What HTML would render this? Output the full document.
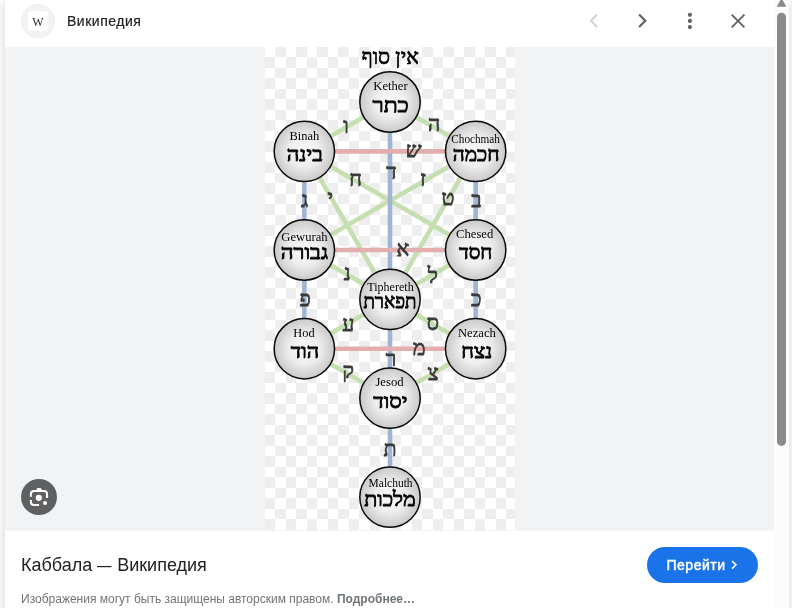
<!DOCTYPE html>
<html lang="ru">
<head>
<meta charset="utf-8">
<title>Каббала — Википедия</title>
<style>
*{box-sizing:border-box;margin:0;padding:0}
html,body{width:792px;height:608px;overflow:hidden;background:#fff}
body{position:relative;font-family:"Liberation Sans",sans-serif;color:#202124}
.edge{position:absolute;left:0;top:0;width:5px;height:608px;background:linear-gradient(180deg,rgba(255,255,255,.55),rgba(255,255,255,0) 9px),linear-gradient(90deg,#f5f5f5 0 1px,#f3f3f3 0 2px,#f0f0f0 0 3px,#ededed 0 4px,#e9eaea 0)}
.corner{position:absolute;left:5px;top:0;width:5px;height:5px;background:#f4f5f5}
.panel{position:absolute;left:5px;top:0;width:769px;height:608px;background:#fff;border-top-left-radius:4px}
.header{position:absolute;left:0;top:0;width:769px;height:47px}
.fav{position:absolute;left:16px;top:4px;width:34px;height:34px;border-radius:50%;background:#f1f3f4;border:1px solid #eceef0}
.fav i{position:absolute;left:6px;top:6px;width:20px;height:20px;border-radius:3px;background:#fff}
.fav b{position:absolute;left:6px;top:6.5px;width:20px;height:20px;font:normal 12px/20px "Liberation Serif",serif;text-align:center;color:#2a2a2a;will-change:transform}
.site{position:absolute;left:62px;top:13px;font-size:14px;line-height:16px;color:#202124;white-space:nowrap;letter-spacing:.52px;will-change:transform;-webkit-text-stroke:.2px #202124}
.hic{position:absolute;left:0;top:0}
.lens svg,.btn svg{position:absolute;left:0;top:0}
.dash{display:inline-block;transform:scaleX(.8);transform-origin:0 50%;margin-right:-3.1px}
.stage{position:absolute;left:0;top:47px;width:769px;height:484px;background:#f1f3f4}
.img{position:absolute;left:260px;top:0;width:250px;height:483px;background:#fff}
.img svg{display:block}
.sub{position:absolute;left:0;top:483px;width:769px;height:1px;background:#f7f8f9}
.sub i{position:absolute;left:260px;top:0;width:250px;height:1px;background:#f3f3f3}
.lens{position:absolute;left:16px;top:432px;width:36px;height:36px;border-radius:50%;background:#5f6062}
.foot{position:absolute;left:0;top:531px;width:769px;height:77px}
.title{position:absolute;left:16px;top:23px;font-size:18px;line-height:22px;color:#202124;white-space:nowrap}
.cap{position:absolute;left:16px;top:61px;font-size:12px;line-height:14px;color:#70757a;white-space:nowrap}
.cap b{font-weight:bold}
.btn{position:absolute;left:642px;top:16px;width:111px;height:36px;border-radius:18px;background:#1a73e8;color:#fff;font-size:14px;line-height:36px;white-space:nowrap;letter-spacing:.5px;-webkit-text-stroke:.45px #fff}
.btn span{position:absolute;left:19.5px;top:0}
.sb{position:absolute;left:774px;top:0;width:15px;height:608px;background:#fcfcfc}
.sb svg{position:absolute;left:0;top:0}
.rt{position:absolute;left:789px;top:0;width:3px;height:608px;background:linear-gradient(180deg,rgba(255,255,255,.6),rgba(255,255,255,0) 9px),linear-gradient(90deg,#eaecec 0 1px,#eeeeee 0 2px,#f0f0f0 0)}
</style>
</head>
<body>
<div class="edge"></div>
<div class="corner"></div>
<div class="panel">
  <div class="header">
    <div class="fav"><i></i><b>W</b></div>
    <div class="site">Википедия</div>
    <svg class="hic" width="769" height="47" viewBox="5 0 769 47" fill="none">
      <polyline points="597.1,14.6 590.9,20.85 597.1,27.1" stroke="#d2d4d7" stroke-width="2.15"/>
      <polyline points="639.1,14.6 645.3,20.85 639.1,27.1" stroke="#5f6368" stroke-width="2.15"/>
      <g fill="#5f6368"><circle cx="689.9" cy="14.8" r="2.1"/><circle cx="689.9" cy="20.95" r="2.1"/><circle cx="689.9" cy="27.1" r="2.1"/></g>
      <path d="M731.7 14.6L744.4 27.4M744.4 14.6L731.7 27.4" stroke="#5f6368" stroke-width="1.9"/>
    </svg>
  </div>
  <div class="stage">
    <div class="img">
<!--TREE-->
<svg class="tree" width="250" height="483" viewBox="0 0 250 483">
<defs><radialGradient id="g" cx="50%" cy="50%" r="50%"><stop offset="0" stop-color="#f9f9f9"/><stop offset="0.5" stop-color="#eeeeee"/><stop offset="1" stop-color="#c9c9c9"/></radialGradient><pattern id="ck" width="21" height="21" patternUnits="userSpaceOnUse"><rect width="21" height="21" fill="#fff"/><rect x="10" width="11" height="10" fill="#eee"/><rect y="10" width="10" height="11" fill="#eee"/></pattern></defs>
<rect width="250" height="483" fill="url(#ck)"/>
<g stroke-width="4.6" fill="none">
<line x1="125.00" y1="55.00" x2="39.35" y2="104.34" stroke="#c5dfb0"/>
<line x1="125.00" y1="55.00" x2="210.65" y2="104.34" stroke="#c5dfb0"/>
<line x1="39.35" y1="104.34" x2="125.00" y2="252.36" stroke="#c5dfb0"/>
<line x1="210.65" y1="104.34" x2="125.00" y2="252.36" stroke="#c5dfb0"/>
<line x1="39.35" y1="104.34" x2="210.65" y2="203.02" stroke="#c5dfb0"/>
<line x1="210.65" y1="104.34" x2="39.35" y2="203.02" stroke="#c5dfb0"/>
<line x1="39.35" y1="203.02" x2="125.00" y2="252.36" stroke="#c5dfb0"/>
<line x1="210.65" y1="203.02" x2="125.00" y2="252.36" stroke="#c5dfb0"/>
<line x1="125.00" y1="252.36" x2="39.35" y2="301.70" stroke="#c5dfb0"/>
<line x1="125.00" y1="252.36" x2="210.65" y2="301.70" stroke="#c5dfb0"/>
<line x1="39.35" y1="301.70" x2="125.00" y2="351.14" stroke="#c5dfb0"/>
<line x1="210.65" y1="301.70" x2="125.00" y2="351.14" stroke="#c5dfb0"/>
<line x1="125.00" y1="55.00" x2="125.00" y2="252.36" stroke="#9fb5d3"/>
<line x1="39.35" y1="104.34" x2="39.35" y2="203.02" stroke="#9fb5d3"/>
<line x1="210.65" y1="104.34" x2="210.65" y2="203.02" stroke="#9fb5d3"/>
<line x1="39.35" y1="203.02" x2="39.35" y2="301.70" stroke="#9fb5d3"/>
<line x1="210.65" y1="203.02" x2="210.65" y2="301.70" stroke="#9fb5d3"/>
<line x1="125.00" y1="252.36" x2="125.00" y2="351.14" stroke="#9fb5d3"/>
<line x1="125.00" y1="351.14" x2="125.00" y2="450.15" stroke="#9fb5d3"/>
<line x1="39.35" y1="104.34" x2="210.65" y2="104.34" stroke="#e2aeae"/>
<line x1="39.35" y1="203.02" x2="210.65" y2="203.02" stroke="#e2aeae"/>
<line x1="39.35" y1="301.70" x2="210.65" y2="301.70" stroke="#e2aeae"/>
</g>
<g font-family="'Liberation Serif',serif" fill="#3a3a3a" stroke="#3a3a3a" stroke-width="0.8" stroke-linejoin="round" text-anchor="middle" style="will-change:transform">
<text x="81.01" y="85.7" font-size="21.4">ו</text>
<text x="169.17" y="83.7" font-size="21.4">ה</text>
<text x="148.06" y="109.5" font-size="21.4" font-style="italic">ש</text>
<text x="126.44" y="131.6" font-size="21.4">ד</text>
<text x="90.62" y="139.2" font-size="21.4">ח</text>
<text x="158.07" y="139.4" font-size="21.4">ז</text>
<text x="65.34" y="157.9" font-size="21.4">י</text>
<text x="182.85" y="158.3" font-size="21.4">ט</text>
<text x="39.62" y="160.1" font-size="21.4">ג</text>
<text x="211.44" y="160.1" font-size="21.4">ב</text>
<text x="137.9" y="208.7" font-size="21.4">א</text>
<text x="82.29" y="233.0" font-size="21.4">נ</text>
<text x="167.82" y="235.7" font-size="21.4">ל</text>
<text x="40.16" y="258.7" font-size="21.4">פ</text>
<text x="211.11" y="259.0" font-size="21.4">כ</text>
<text x="83.38" y="283.5" font-size="21.4">ע</text>
<text x="167.89" y="283.0" font-size="21.4">ס</text>
<text x="154.04" y="307.6" font-size="21.4">מ</text>
<text x="125.96" y="319.3" font-size="21.4">ר</text>
<text x="83.15" y="331.2" font-size="21.4">ק</text>
<text x="168.15" y="332.6" font-size="21.4">צ</text>
<text x="125.14" y="408.5" font-size="21.4">ת</text>
</g>
<g stroke="#0a0a0a" stroke-width="1.5" fill="url(#g)">
<circle cx="125.00" cy="55.00" r="30.2"/>
<circle cx="39.35" cy="104.34" r="30.2"/>
<circle cx="210.65" cy="104.34" r="30.2"/>
<circle cx="39.35" cy="203.02" r="30.2"/>
<circle cx="210.65" cy="203.02" r="30.2"/>
<circle cx="125.00" cy="252.36" r="30.2"/>
<circle cx="39.35" cy="301.70" r="30.2"/>
<circle cx="210.65" cy="301.70" r="30.2"/>
<circle cx="125.00" cy="351.14" r="30.2"/>
<circle cx="125.00" cy="450.15" r="30.2"/>
</g>
<g style="will-change:transform" text-anchor="middle" fill="#000" stroke="#000" font-family="'Liberation Serif',serif">
<text x="125.50" y="43.00" font-size="12.5" stroke-width="0" textLength="34.4" lengthAdjust="spacingAndGlyphs">Kether</text>
<text x="125.60" y="64.55" font-size="20.6" stroke-width="0.85" stroke-linejoin="round" textLength="36.3" lengthAdjust="spacingAndGlyphs">כתר</text>
<text x="39.35" y="92.74" font-size="12.5" stroke-width="0" textLength="29.8" lengthAdjust="spacingAndGlyphs">Binah</text>
<text x="39.75" y="113.69" font-size="20.6" stroke-width="0.85" stroke-linejoin="round" textLength="36.1" lengthAdjust="spacingAndGlyphs">בינה</text>
<text x="210.65" y="95.64" font-size="12.5" stroke-width="0" textLength="48.6" lengthAdjust="spacingAndGlyphs">Chochmah</text>
<text x="211.15" y="113.69" font-size="20.6" stroke-width="0.85" stroke-linejoin="round" textLength="46.8" lengthAdjust="spacingAndGlyphs">חכמה</text>
<text x="39.45" y="194.42" font-size="12.5" stroke-width="0" textLength="46.2" lengthAdjust="spacingAndGlyphs">Gewurah</text>
<text x="39.45" y="212.37" font-size="20.6" stroke-width="0.85" stroke-linejoin="round" textLength="47.5" lengthAdjust="spacingAndGlyphs">גבורה</text>
<text x="209.65" y="191.42" font-size="12.5" stroke-width="0" textLength="37.2" lengthAdjust="spacingAndGlyphs">Chesed</text>
<text x="210.65" y="212.37" font-size="20.6" stroke-width="0.85" stroke-linejoin="round" textLength="33.4" lengthAdjust="spacingAndGlyphs">חסד</text>
<text x="125.50" y="243.86" font-size="12.5" stroke-width="0" textLength="46.5" lengthAdjust="spacingAndGlyphs">Tiphereth</text>
<text x="125.00" y="261.41" font-size="20.6" stroke-width="0.85" stroke-linejoin="round" textLength="53.1" lengthAdjust="spacingAndGlyphs">תפארת</text>
<text x="38.95" y="290.20" font-size="12.5" stroke-width="0" textLength="21.3" lengthAdjust="spacingAndGlyphs">Hod</text>
<text x="39.95" y="311.25" font-size="20.6" stroke-width="0.85" stroke-linejoin="round" textLength="28.2" lengthAdjust="spacingAndGlyphs">הוד</text>
<text x="211.95" y="290.40" font-size="12.5" stroke-width="0" textLength="38.1" lengthAdjust="spacingAndGlyphs">Nezach</text>
<text x="211.75" y="311.25" font-size="20.6" stroke-width="0.85" stroke-linejoin="round" textLength="31.2" lengthAdjust="spacingAndGlyphs">נצח</text>
<text x="124.50" y="339.34" font-size="12.5" stroke-width="0" textLength="28.2" lengthAdjust="spacingAndGlyphs">Jesod</text>
<text x="125.30" y="360.69" font-size="20.6" stroke-width="0.85" stroke-linejoin="round" textLength="34.1" lengthAdjust="spacingAndGlyphs">יסוד</text>
<text x="125.60" y="439.55" font-size="12.5" stroke-width="0" textLength="44.0" lengthAdjust="spacingAndGlyphs">Malchuth</text>
<text x="125.00" y="459.30" font-size="20.6" stroke-width="0.85" stroke-linejoin="round" textLength="51.6" lengthAdjust="spacingAndGlyphs">מלכות</text>
<text x="125.3" y="17.0" font-size="21.5" stroke-width="0.7" textLength="57" lengthAdjust="spacingAndGlyphs">אין סוף</text>
</g>
</svg>
<!--/TREE-->
</div>
    <div class="sub"><i></i></div>
    <div class="lens"><svg width="36" height="36" viewBox="0 0 36 36">
      <g fill="none" stroke="#fff" stroke-width="2.1">
        <path d="M9.9 17.8V15a3 3 0 0 1 3-3H23a3 3 0 0 1 3 3V19.1"/>
        <path d="M9.9 21.05V23a3 3 0 0 0 3 3H18.05"/>
      </g>
      <path d="M15.2 11.3l1-2.35h3.6l1 2.35z" fill="#fff"/>
      <circle cx="17.8" cy="18.8" r="3.1" fill="#fff"/>
      <circle cx="24.05" cy="24.05" r="2.05" fill="#fff"/>
    </svg></div>
  </div>
  <div class="foot">
    <div class="title">Каббала <span class="dash">—</span> Википедия</div>
    <div class="cap">Изображения могут быть защищены авторским правом. <b>Подробнее…</b></div>
    <div class="btn"><span>Перейти</span><svg width="111" height="36" viewBox="647 547 111 36"><polyline points="732,561.1 736,564.85 732,568.6" fill="none" stroke="#fff" stroke-width="1.5"/></svg></div>
  </div>
</div>
<div class="sb"><svg width="15" height="608" viewBox="774 0 15 608"><path d="M777.6 6.2L781.5 -0.6L785.4 6.2Z" fill="#8b8b8b" stroke="#8b8b8b" stroke-width="1.2" stroke-linejoin="round"/><rect x="777" y="12.7" width="9" height="433.2" rx="4.5" fill="#8b8b8b"/></svg></div>
<div class="rt"></div>
</body>
</html>
